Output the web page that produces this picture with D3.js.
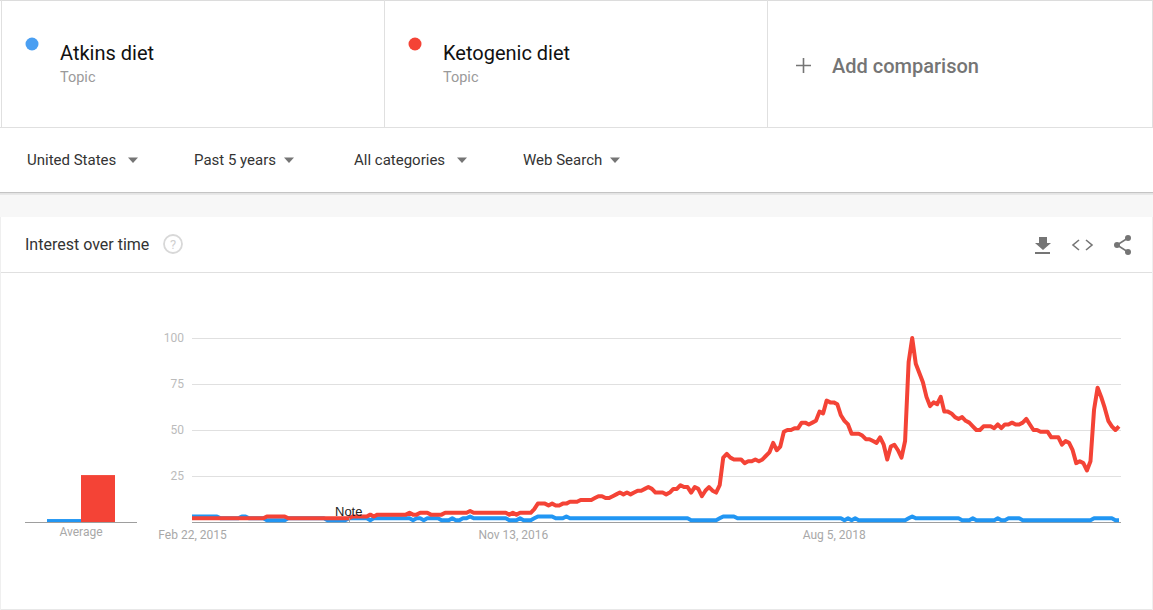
<!DOCTYPE html>
<html>
<head>
<meta charset="utf-8">
<script src="https://cdn.jsdelivr.net/npm/d3@7"></script>
<style>
  html, body { margin: 0; padding: 0; background: #fff; overflow: hidden; }
  svg { display: block; font-family: Roboto, sans-serif; }
  .axis .domain { display: none; }
  .axis .tick line { stroke: #e0e0e0; }
  .axis text { font-family: Roboto, sans-serif; }
</style>
</head>
<body>
<svg id="chart" width="1153" height="610"></svg>
<script>
const atkins = [
  3,3,3,3,3,3,3,3,2,2,
  2,2,2,2,3,3,2,2,2,2,
  2,1,1,1,1,1,1,2,2,2,
  2,2,2,2,2,2,2,2,1,1,
  1,1,1,1,2,2,2,2,2,2,
  1,2,2,2,2,2,2,2,2,2,
  2,2,1,2,2,1,2,2,2,2,
  1,1,1,2,1,1,2,2,3,2,
  2,2,2,2,2,2,2,2,2,1,
  1,1,2,1,1,1,2,3,3,3,
  3,3,2,2,2,3,2,2,2,2,
  2,2,2,2,2,2,2,2,2,2,
  2,2,2,2,2,2,2,2,2,2,
  2,2,2,2,2,2,2,2,2,2,
  1,1,1,1,1,1,1,1,2,3,
  3,3,3,2,2,2,2,2,2,2,
  2,2,2,2,2,2,2,2,2,2,
  2,2,2,2,2,2,2,2,2,2,
  2,2,2,1,2,1,2,1,1,1,
  1,1,1,1,1,1,1,1,1,1,
  1,2,3,2,2,2,2,2,2,2,
  2,2,2,2,2,2,1,1,1,2,
  1,1,1,1,1,1,2,1,1,2,
  2,2,2,1,1,1,1,1,1,1,
  1,1,1,1,1,1,1,1,1,1,
  1,1,1,2,2,2,2,2,2,1,1
];
const keto = [
  2,2,2,2,2,2,2,2,2,2,
  2,2,2,2,2,2,2,2,2,2,
  2,3,3,3,3,3,3,2,2,2,
  2,2,2,2,2,2,2,2,2,2,
  2,2,2,2,2,3,3,3,3,3,
  4,3,4,4,4,4,4,4,4,4,
  4,5,4,4,5,5,5,4,4,4,
  4,5,5,5,5,5,5,5,6,5,
  5,5,5,5,5,5,5,5,5,4,
  5,4,5,5,5,5,7,10,10,10,
  9,10,9,9,10,10,11,11,11,12,
  12,12,12,13,14,14,13,13,14,15,
  16,15,16,15,16,17,17,18,19,18,
  16,16,16,15,16,18,18,20,19,19,
  16,19,18,14,17,19,17,16,20,35,
  37,35,34,34,34,32,33,33,34,33,
  34,36,38,43,39,41,49,50,50,51,
  51,54,54,53,54,55,60,59,66,65,
  65,64,58,55,53,48,48,48,47,45,
  45,44,43,46,42,34,41,42,39,35,
  44,87,100,86,81,76,68,63,65,64,
  68,60,60,59,57,56,57,55,54,52,
  50,50,52,52,52,51,53,51,53,53,
  54,53,53,54,56,53,50,50,49,49,
  49,46,46,46,42,44,43,39,32,33,
  32,28,33,61,73,68,62,55,52,50,52
];
const averages = [1.6, 25.5];
const avgNames = ["Atkins diet", "Ketogenic diet"];
const yTicks = [25, 50, 75, 100];
const xTicks = ["2015-02-22", "2016-11-13", "2018-08-05"];
const filters = ["United States", "Past 5 years", "All categories", "Web Search"];

const BLUE = "#2196f3", RED = "#f44336";

const svg = d3.select("#chart");
const parse = d3.utcParse("%Y-%m-%d");
const start = parse(xTicks[0]);
const dates = keto.map((d, i) => d3.utcDay.offset(start, i * 7));

// page chrome
svg.append("rect").attr("x", 0).attr("y", 194).attr("width", 1153).attr("height", 23).attr("fill", "#f7f7f7");
svg.append("rect").attr("x", 0).attr("y", 192).attr("width", 1153).attr("height", 1.5).attr("fill", "#c4c4c4");
svg.append("rect").attr("x", 0).attr("y", 193.5).attr("width", 1153).attr("height", 1.5).attr("fill", "#e8e8e8");

const hline = (y, x1, x2, c) => svg.append("line").attr("x1", x1).attr("x2", x2).attr("y1", y).attr("y2", y).attr("stroke", c || "#e0e0e0");
const vline = (x, y1, y2, c) => svg.append("line").attr("x1", x).attr("x2", x).attr("y1", y1).attr("y2", y2).attr("stroke", c || "#e0e0e0");
hline(0.5, 0, 1153, "#dcdcdc");
hline(127.5, 0, 1153);
vline(1.5, 0, 127);
vline(384.5, 0, 127);
vline(767.5, 0, 127);
vline(1152.5, 0, 127);
hline(272.5, 0, 1153);
hline(609.5, 0, 1153, "#e8e8e8");
vline(0.5, 217, 610, "#efefef");
vline(1152.5, 217, 610, "#efefef");

// header cards
const text = (x, y, s, size, color, weight) => svg.append("text")
  .attr("x", x).attr("y", y).attr("font-size", size).attr("fill", color)
  .attr("font-weight", weight || 400).text(s);

[[32, 60, "#4a9ff2"], [415, 443, "#f44336"]].forEach(([cx, tx, c], i) => {
  svg.append("circle").attr("cx", cx).attr("cy", 44).attr("r", 6.5).attr("fill", c);
  text(tx, 60, avgNames[i], 20, "#111");
  text(tx, 82, "Topic", 14.5, "#9a9a9a");
});
svg.append("path").attr("d", "M796 65.5H811M803.5 58V73").attr("stroke", "#757575").attr("stroke-width", 1.6).attr("fill", "none");
text(832, 73, "Add comparison", 20, "#757575", 500);

// filter row
[[27, 133], [194, 289], [354, 462], [523, 615]].forEach(([tx, ax], i) => {
  text(tx, 165, filters[i], 15, "#333");
  svg.append("path").attr("d", `M${ax - 5} 157.5H${ax + 5}L${ax} 163Z`).attr("fill", "#757575");
});

// card title and icons
text(25, 250, "Interest over time", 16, "#333");
svg.append("circle").attr("cx", 173).attr("cy", 244).attr("r", 9).attr("fill", "none").attr("stroke", "#d8d8d8").attr("stroke-width", 1.8);
svg.append("text").attr("x", 173).attr("y", 249).attr("text-anchor", "middle").attr("font-size", 13).attr("fill", "#d0d0d0").text("?");
svg.append("path").attr("d", "M1039 237h8v6h4l-8 7l-8-7h4zM1035 252h15v2h-15z").attr("fill", "#757575");
svg.append("path").attr("d", "M1079 240l-6 5l6 5M1086 240l6 5l-6 5").attr("fill", "none").attr("stroke", "#757575").attr("stroke-width", 1.6);
svg.append("path").attr("d", "M1128 238L1117 245L1128 252").attr("fill", "none").attr("stroke", "#757575").attr("stroke-width", 1.6);
[[1128, 238], [1117, 245], [1128, 252]].forEach(p => svg.append("circle").attr("cx", p[0]).attr("cy", p[1]).attr("r", 3).attr("fill", "#757575"));

// scales
const y = d3.scaleLinear().domain([0, 100]).range([522, 338]);
const x = d3.scaleUtc().domain([start, dates[dates.length - 1]]).range([192, 1119]);
const band = d3.scaleBand().domain(avgNames).range([47, 115]);

// gridlines + y labels
const yAxis = svg.append("g").attr("class", "axis").attr("transform", "translate(192,0)")
  .call(d3.axisLeft(y).tickValues(yTicks).tickSize(-929).tickPadding(8));
yAxis.selectAll("text").attr("font-size", 12).attr("fill", "#bbbbbb");
yAxis.selectAll("line").attr("stroke", "#dddddd");

// x labels
const xAxis = svg.append("g").attr("class", "axis").attr("transform", "translate(0,522)")
  .call(d3.axisBottom(x).tickValues(xTicks.map(parse)).tickSize(0).tickPadding(8)
    .tickFormat(d3.utcFormat("%b %-d, %Y")));
xAxis.selectAll("text").attr("font-size", 12).attr("fill", "#a8a8a8");

// average bars
svg.selectAll(".avg").data(averages).join("rect").attr("class", "avg")
  .attr("x", (d, i) => band(avgNames[i]))
  .attr("width", band.bandwidth())
  .attr("y", d => y(d))
  .attr("height", d => y(0) - y(d))
  .attr("fill", (d, i) => i ? RED : BLUE);
hline(522.5, 25, 137, "#9e9e9e");
hline(522.5, 192, 1121, "#9e9e9e");
svg.append("text").attr("x", 81).attr("y", 536).attr("text-anchor", "middle")
  .attr("font-size", 12).attr("fill", "#a8a8a8").text("Average");

// lines
const line = d3.line().x((d, i) => x(dates[i])).y(d => y(d)).curve(d3.curveLinear);
[[atkins, BLUE], [keto, RED]].forEach(([s, c]) => {
  svg.append("path").datum(s).attr("d", line).attr("fill", "none")
    .attr("stroke", c).attr("stroke-width", 4).attr("stroke-linejoin", "round");
});

// annotation
vline(349.5, 518, 522, "#9e9e9e");
svg.append("text").attr("x", 335).attr("y", 516).attr("font-family", "'Liberation Sans', Arial, sans-serif")
  .attr("font-size", 13).attr("fill", "#222").text("Note");
</script>
</body>
</html>
